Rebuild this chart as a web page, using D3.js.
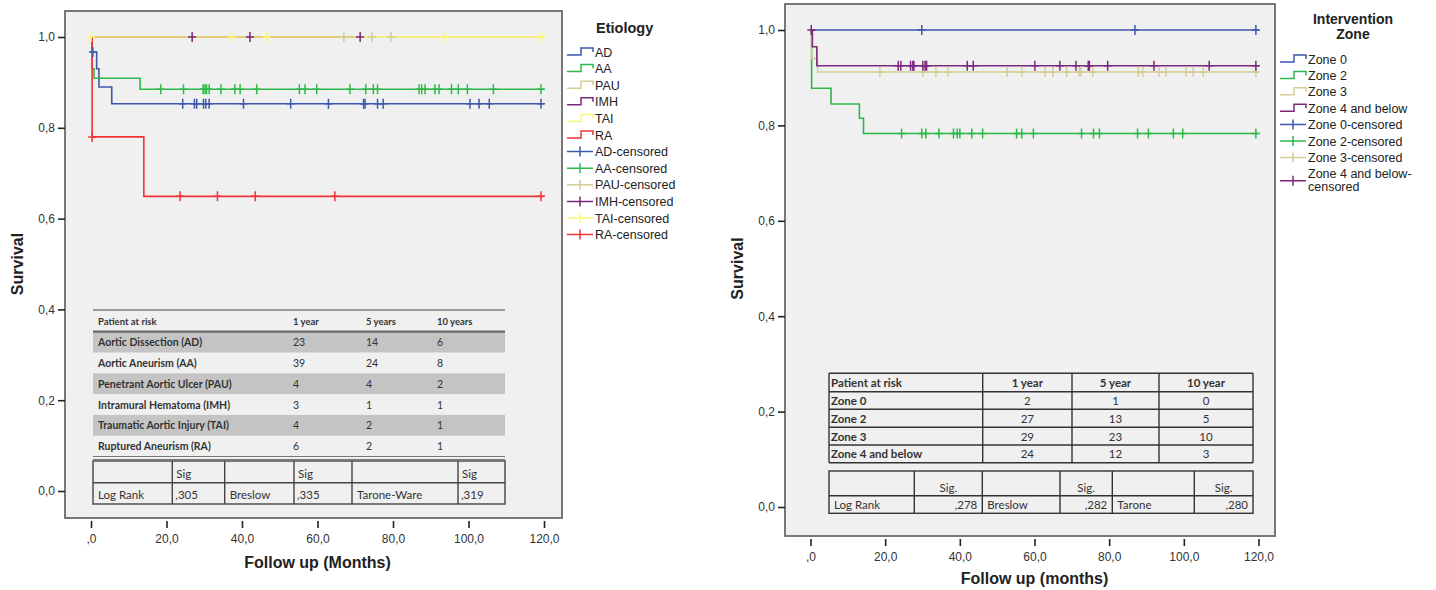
<!DOCTYPE html>
<html>
<head>
<meta charset="utf-8">
<script src="https://cdnjs.cloudflare.com/ajax/libs/d3/7.8.5/d3.min.js"></script>
<style>
  body { margin: 0; background: #fff; }
  svg { display: block; }
  .tick text { font-family: "Liberation Sans", Arial, sans-serif; font-size: 12px; fill: #333; }
  .tick line { stroke: #222; stroke-width: 1.6; }
  .ttl { font-family: "Liberation Sans", Arial, sans-serif; font-weight: bold; font-size: 16px; fill: #222; }
  .leg { font-family: "Liberation Sans", Arial, sans-serif; font-size: 12.5px; fill: #222; }
  .tb { font-family: Lato, "Open Sans", sans-serif; fill: #333; }
</style>
</head>
<body>
<svg id="chart" width="1436" height="590"></svg>
<script>
// ---- shared axis data
var xTicks = [0, 20, 40, 60, 80, 100, 120];
var xTickLabels = [',0', '20,0', '40,0', '60,0', '80,0', '100,0', '120,0'];
var yTicks = [0, 0.2, 0.4, 0.6, 0.8, 1.0];
var yTickLabels = ['0,0', '0,2', '0,4', '0,6', '0,8', '1,0'];

// ---- left panel: etiology
var etioNames = ['AD', 'AA', 'PAU', 'IMH', 'TAI', 'RA'];
var etioColors = ['#3e58ac', '#2eb848', '#d3ce97', '#7c287d', '#fbf873', '#ef3338'];
var adSteps = [[0, 1], [0.3, 0.967], [1.5, 0.93], [2.1, 0.89], [5.5, 0.853], [120, 0.853]];
var aaSteps = [[0, 1], [0.3, 0.93], [0.8, 0.909], [13, 0.885], [120, 0.885]];
var pauSteps = [[0, 1], [120, 1]];
var imhSteps = [[0, 1], [71.3, 1]];
var taiSteps = [[0, 1], [120, 1]];
var raSteps = [[0, 1], [0.3, 0.78], [14, 0.649], [120, 0.649]];
var adCens = [0.5, 24.3, 27.4, 28, 29.8, 30.4, 31.3, 40.4, 52.9, 62.9, 72.2, 72.6, 75.9, 77.4, 100.4, 102.8, 105.5, 119.2];
var aaCens = [18.5, 24.5, 29.7, 30.2, 30.6, 31.3, 34.4, 38.1, 39.5, 43.9, 55.2, 56.7, 59.8, 68.6, 72.8, 74.8, 75.9, 86.9, 87.6, 88.5, 91.1, 92.2, 95.5, 97.3, 99.7, 106.6, 119.2];
var pauCens = [67, 74.4, 79.5];
var imhCens = [26.8, 42.1, 71.3];
var taiCens = [0, 37.3, 46.6, 93.5, 119.2];
var raCens = [0.3, 23.6, 33.5, 43.5, 64.6, 119.2];
var etioSteps = [adSteps, aaSteps, pauSteps, imhSteps, taiSteps, raSteps];
var etioCens = [adCens, aaCens, pauCens, imhCens, taiCens, raCens];

var riskHeadLeft = ['Patient at risk', '1 year', '5 years', '10 years'];
var riskRowsLeft = [
  ['Aortic Dissection (AD)', 23, 14, 6],
  ['Aortic Aneurism (AA)', 39, 24, 8],
  ['Penetrant Aortic Ulcer (PAU)', 4, 4, 2],
  ['Intramural Hematoma (IMH)', 3, 1, 1],
  ['Traumatic Aortic Injury (TAI)', 4, 2, 1],
  ['Ruptured Aneurism (RA)', 6, 2, 1]
];
var sigTestsLeft = ['Log Rank', 'Breslow', 'Tarone-Ware'];
var sigValsLeft = [',305', ',335', ',319'];

// ---- right panel: intervention zone
var zoneNames = ['Zone 0', 'Zone 2', 'Zone 3', 'Zone 4 and below'];
var zoneColors = ['#3e58ac', '#2eb848', '#d3ce97', '#7c287d'];
var z0Steps = [[0, 1], [120, 1]];
var z2Steps = [[0, 1], [0.3, 0.878], [5.5, 0.845], [13.1, 0.815], [14.2, 0.783], [120, 0.783]];
var z3Steps = [[0, 1], [0.3, 0.94], [1.9, 0.912], [120, 0.912]];
var z4Steps = [[0, 1], [0.5, 0.965], [1.7, 0.925], [120, 0.925]];
var z0Cens = [29.8, 86.9, 119.3];
var z2Cens = [24.4, 29.8, 30.9, 34.4, 38.3, 39.3, 40.0, 43.2, 46.1, 55.2, 56.6, 59.7, 72.6, 75.8, 77.4, 87.6, 90.5, 97.2, 99.7, 119.3];
var z3Cens = [18.6, 30.1, 33.6, 36.9, 52.7, 56.6, 62.8, 64.9, 68.6, 72.0, 72.4, 75.6, 87.8, 89.0, 93.4, 95.2, 100.6, 102.5, 105.2, 119.3];
var z4Cens = [0.2, 23.5, 24.2, 26.8, 27.4, 27.7, 30.1, 30.7, 31.1, 42.0, 43.6, 60.1, 66.8, 71.1, 74.4, 74.7, 79.6, 92.0, 106.8, 119.3];
var zoneSteps = [z0Steps, z2Steps, z3Steps, z4Steps];
var zoneCens = [z0Cens, z2Cens, z3Cens, z4Cens];

var riskHeadRight = ['Patient at risk', '1 year', '5 year', '10 year'];
var riskRowsRight = [
  ['Zone 0', 2, 1, 0],
  ['Zone 2', 27, 13, 5],
  ['Zone 3', 29, 23, 10],
  ['Zone 4 and below', 24, 12, 3]
];
var sigTestsRight = ['Log Rank', 'Breslow', 'Tarone'];
var sigValsRight = [',278', ',282', ',280'];

var svg = d3.select('#chart');

function stepAt(steps, t) {
  var s = steps[0][1];
  steps.forEach(function(p) { if (p[0] <= t) s = p[1]; });
  return s;
}

function draw_panel(p) {
  var x = d3.scaleLinear().domain([0, 120]).range(p.xr);
  var y = d3.scaleLinear().domain([0, 1]).range(p.yr);
  var g = svg.append('g');

  g.append('rect')
    .attr('x', p.frame[0]).attr('y', p.frame[1])
    .attr('width', p.frame[2] - p.frame[0]).attr('height', p.frame[3] - p.frame[1])
    .attr('fill', '#f0f0f0').attr('stroke', '#6a6a6a').attr('stroke-width', 1.8);

  var xAxis = d3.axisBottom(x).tickValues(xTicks).tickSize(7).tickPadding(6)
    .tickFormat(function(d, i) { return xTickLabels[i]; });
  g.append('g').attr('transform', 'translate(0,' + (p.frame[3] + 3) + ')').call(xAxis)
    .call(function(a) { a.select('.domain').remove(); });

  var yAxis = d3.axisLeft(y).tickValues(yTicks).tickSize(7).tickPadding(3)
    .tickFormat(function(d, i) { return yTickLabels[i]; });
  g.append('g').attr('transform', 'translate(' + p.frame[0] + ',0)').call(yAxis)
    .call(function(a) { a.select('.domain').remove(); });

  g.append('text').attr('class', 'ttl')
    .attr('x', (p.xr[0] + p.xr[1]) / 2).attr('y', p.xTitleY)
    .attr('text-anchor', 'middle').text(p.xTitle);
  g.append('text').attr('class', 'ttl')
    .attr('transform', 'translate(' + p.yTitleX + ',' + (p.yr[0] + p.yr[1]) / 2 + ') rotate(-90)')
    .attr('text-anchor', 'middle').text('Survival');

  // curves
  var line = d3.line().curve(d3.curveStepAfter)
    .x(function(d) { return x(d[0]); }).y(function(d) { return y(d[1]); });
  p.steps.forEach(function(steps, i) {
    g.append('path').attr('d', line(steps))
      .attr('fill', 'none').attr('stroke', p.colors[i]).attr('stroke-width', 1.6);
  });
  p.cens.forEach(function(cens, i) {
    g.selectAll(null).data(cens).enter().append('path')
      .attr('d', function(t) {
        var cx = x(t), cy = y(stepAt(p.steps[i], t));
        return 'M' + (cx - 4) + ',' + cy + 'H' + (cx + 4) + 'M' + cx + ',' + (cy - 5) + 'V' + (cy + 5);
      })
      .attr('stroke', p.colors[i]).attr('stroke-width', 1.5).attr('fill', 'none');
  });
  return g;
}

function draw_legend(names, colors, x0, y0, dy, wrap) {
  var g = svg.append('g');
  var all = [];
  names.forEach(function(n, i) { all.push({label: n, color: colors[i], type: 'step'}); });
  names.forEach(function(n, i) { all.push({label: n + '-censored', color: colors[i], type: 'cens'}); });
  all.forEach(function(d, i) {
    var yy = y0 + i * dy;
    var twoLines = wrap && d.label.length > 18;
    var iy = twoLines ? yy + 7 : yy;
    if (d.type == 'step') {
      g.append('path').attr('d', 'M' + x0 + ',' + (iy + 3) + 'h14v-7h12v4')
        .attr('fill', 'none').attr('stroke', d.color).attr('stroke-width', 1.5);
    } else {
      g.append('path').attr('d', 'M' + x0 + ',' + iy + 'h26M' + (x0 + 13) + ',' + (iy - 5) + 'v10')
        .attr('fill', 'none').attr('stroke', d.color).attr('stroke-width', 1.5);
    }
    if (twoLines) {
      var t = g.append('text').attr('class', 'leg').attr('y', yy + 4.5);
      t.append('tspan').attr('x', x0 + 28).text(d.label.replace('censored', ''));
      t.append('tspan').attr('x', x0 + 28).attr('dy', 13).text('censored');
    } else {
      g.append('text').attr('class', 'leg').attr('x', x0 + 28).attr('y', yy + 4.5).text(d.label);
    }
  });
  return g;
}

// ---- left panel
draw_panel({
  xr: [91, 544], yr: [491, 37], frame: [65, 11, 562, 518],
  xTitle: 'Follow up (Months)', xTitleY: 568, yTitleX: 23,
  steps: etioSteps, cens: etioCens, colors: etioColors
});
draw_legend(etioNames, etioColors, 567, 52, 16.6, false);
svg.append('text').attr('class', 'ttl').style('font-size', '14.5px')
  .attr('x', 596).attr('y', 33).text('Etiology');

// left risk table
(function() {
  var g = svg.append('g');
  var x0 = 93, x1 = 505, top = 310, headH = 21.7, rowH = 20.8;
  var colX = [98, 293, 366, 437];
  riskRowsLeft.forEach(function(r, i) {
    if (i % 2 == 0) {
      g.append('rect').attr('x', x0).attr('y', top + headH + i * rowH)
        .attr('width', x1 - x0).attr('height', rowH).attr('fill', '#c4c4c4');
    }
  });
  g.append('line').attr('x1', x0).attr('x2', x1).attr('y1', top).attr('y2', top)
    .attr('stroke', '#9a9a9a').attr('stroke-width', 2);
  g.append('line').attr('x1', x0).attr('x2', x1).attr('y1', top + headH).attr('y2', top + headH)
    .attr('stroke', '#6a6a6a').attr('stroke-width', 2.2);
  var bot = top + headH + riskRowsLeft.length * rowH;
  [bot, bot + 3].forEach(function(yy) {
    g.append('line').attr('x1', x0).attr('x2', x1).attr('y1', yy).attr('y2', yy)
      .attr('stroke', '#777').attr('stroke-width', 1.2);
  });
  riskHeadLeft.forEach(function(h, j) {
    g.append('text').attr('class', 'tb').attr('x', colX[j]).attr('y', top + 15)
      .attr('font-weight', 'bold').style('font-size', '9.5px').text(h);
  });
  riskRowsLeft.forEach(function(r, i) {
    r.forEach(function(v, j) {
      g.append('text').attr('class', 'tb').attr('x', colX[j]).attr('y', top + headH + i * rowH + 14.5)
        .attr('font-weight', j == 0 ? 'bold' : 'normal').style('font-size', '10.5px').text(v);
    });
  });

  // sig table
  var sx = [93, 172.3, 224.7, 294, 352, 458, 505], sy = [461, 482.7, 504];
  g.append('rect').attr('x', sx[0]).attr('y', sy[0]).attr('width', sx[6] - sx[0]).attr('height', sy[2] - sy[0])
    .attr('fill', 'none').attr('stroke', '#444').attr('stroke-width', 1.4);
  g.append('line').attr('x1', sx[0]).attr('x2', sx[6]).attr('y1', sy[1]).attr('y2', sy[1])
    .attr('stroke', '#444').attr('stroke-width', 1.4);
  sx.slice(1, 6).forEach(function(xx) {
    g.append('line').attr('x1', xx).attr('x2', xx).attr('y1', sy[0]).attr('y2', sy[2])
      .attr('stroke', '#444').attr('stroke-width', 1.4);
  });
  sigTestsLeft.forEach(function(t, k) {
    g.append('text').attr('class', 'tb').attr('x', sx[2 * k] + 5).attr('y', 499).style('font-size', '11.5px').text(t);
    g.append('text').attr('class', 'tb').attr('x', sx[2 * k + 1] + 4).attr('y', 478).style('font-size', '11.5px').text('Sig');
    g.append('text').attr('class', 'tb').attr('x', sx[2 * k + 1] + 3).attr('y', 499).style('font-size', '11.5px').text(sigValsLeft[k]);
  });
})();

// ---- right panel
draw_panel({
  xr: [810.5, 1258.5], yr: [507, 30], frame: [785, 4, 1275, 536],
  xTitle: 'Follow up (months)', xTitleY: 584, yTitleX: 743,
  steps: zoneSteps, cens: zoneCens, colors: zoneColors
});
draw_legend(zoneNames, zoneColors, 1280, 59, 16.4, true);
svg.append('text').attr('class', 'ttl').style('font-size', '14px')
  .attr('x', 1353).attr('y', 24).attr('text-anchor', 'middle').text('Intervention');
svg.append('text').attr('class', 'ttl').style('font-size', '14px')
  .attr('x', 1353).attr('y', 39).attr('text-anchor', 'middle').text('Zone');

// right risk table
(function() {
  var g = svg.append('g');
  var cx = [829, 982.7, 1072, 1159, 1253], ry = [373.3, 391.7, 409.3, 427.3, 445, 462.7];
  var st = '#333';
  ry.forEach(function(yy) {
    g.append('line').attr('x1', cx[0]).attr('x2', cx[4]).attr('y1', yy).attr('y2', yy)
      .attr('stroke', st).attr('stroke-width', 1.4);
  });
  cx.forEach(function(xx) {
    g.append('line').attr('x1', xx).attr('x2', xx).attr('y1', ry[0]).attr('y2', ry[5])
      .attr('stroke', st).attr('stroke-width', 1.4);
  });
  var rows = [riskHeadRight].concat(riskRowsRight);
  rows.forEach(function(r, i) {
    var yy = (ry[i] + ry[i + 1]) / 2 + 4.5;
    r.forEach(function(v, j) {
      var t = g.append('text').attr('class', 'tb').attr('y', yy).style('font-size', '11.5px').text(v);
      if (j == 0) {
        t.attr('x', cx[0] + 2).attr('font-weight', 'bold');
      } else {
        t.attr('x', (cx[j] + cx[j + 1]) / 2).attr('text-anchor', 'middle')
          .attr('font-weight', i == 0 ? 'bold' : 'normal');
      }
    });
  });

  var sx = [829, 914.3, 982.3, 1060, 1112.3, 1194.3, 1253], sy = [471, 495.7, 513.3];
  g.append('rect').attr('x', sx[0]).attr('y', sy[0]).attr('width', sx[6] - sx[0]).attr('height', sy[2] - sy[0])
    .attr('fill', 'none').attr('stroke', st).attr('stroke-width', 1.4);
  g.append('line').attr('x1', sx[0]).attr('x2', sx[6]).attr('y1', sy[1]).attr('y2', sy[1])
    .attr('stroke', st).attr('stroke-width', 1.4);
  sx.slice(1, 6).forEach(function(xx) {
    g.append('line').attr('x1', xx).attr('x2', xx).attr('y1', sy[0]).attr('y2', sy[2])
      .attr('stroke', st).attr('stroke-width', 1.4);
  });
  sigTestsRight.forEach(function(t, k) {
    g.append('text').attr('class', 'tb').attr('x', sx[2 * k] + 5).attr('y', 509).style('font-size', '11.5px').text(t);
    g.append('text').attr('class', 'tb').attr('x', (sx[2 * k + 1] + sx[2 * k + 2]) / 2).attr('y', 492)
      .attr('text-anchor', 'middle').style('font-size', '11.5px').text('Sig.');
    g.append('text').attr('class', 'tb').attr('x', sx[2 * k + 2] - 5).attr('y', 509)
      .attr('text-anchor', 'end').style('font-size', '11.5px').text(sigValsRight[k]);
  });
})();
</script>
</body>
</html>
